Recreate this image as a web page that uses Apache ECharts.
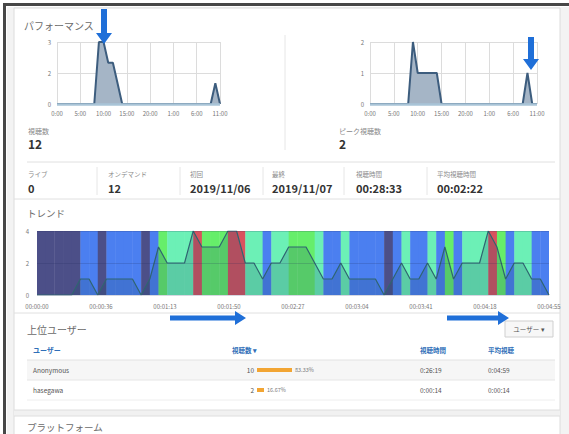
<!DOCTYPE html>
<html>
<head>
<meta charset="utf-8">
<script src="https://cdn.jsdelivr.net/npm/echarts@6/dist/echarts.min.js"></script>
<style>
  html, body { margin: 0; padding: 0; background: #fff; }
  #c { width: 569px; height: 434px; }
</style>
</head>
<body>
<div id="c"></div>
<script>
const FONT = '"Noto Sans CJK JP", "Noto Sans", sans-serif';

// Performance: views per hour and peak concurrent viewers, 0:00 (day 1) to 11:00 (day 2)
const perfTickLabels = ['0:00', '5:00', '10:00', '15:00', '20:00', '1:00', '6:00', '11:00'];
const viewsPerHour = [0,0,0,0,0,0,0,0,0,3,3,2,2,1,0,0,0,0,0,0,0,0,0,0,0,0,0,0,0,0,0,0,0,0,1,0];
const peakPerHour  = [0,0,0,0,0,0,0,0,0,2,1,1,1,1,1,0,0,0,0,0,0,0,0,0,0,0,0,0,0,0,0,0,0,1,0,0];
const viewsYTicks = ['0', '2', '3'];
const peakYTicks = ['0', '1', '2'];

// Summary row
const statLabels = ['ライブ', 'オンデマンド', '初回', '最終', '視聴時間', '平均視聴時間'];
const statValues = ['0', '12', '2019/11/06', '2019/11/07', '00:28:33', '00:02:22'];

// Trend: viewers at each 5-second slot of the video
const trendStepSec = 5;
const trendCounts = [0,0,0,0,0,1,1,0,1,1,1,1,0,1,3,2,2,2,4,3,3,3,4,4,2,2,1,2,2,3,
                     3,3,2,1,1,2,1,1,1,1,0,1,2,1,1,2,1,3,1,2,2,2,4,3,1,2,2,1,1,0];
const trendTickLabels = ['00:00:00', '00:00:36', '00:01:13', '00:01:50', '00:02:27',
                         '00:03:04', '00:03:41', '00:04:18', '00:04:55'];
const trendYTicks = ['0', '2', '4'];
const trendBandColors = ['#4c4f88', '#4b7ff0', '#6cf0b6', '#66ee6a', '#d9525e'];

// Top users
const userNames = ['Anonymous', 'hasegawa'];
const userViews = [10, 2];
const userShare = [83.33, 16.67];
const userWatchTime = ['0:26:19', '0:00:14'];
const userLongest = ['0:04:59', '0:00:14'];

const chart = echarts.init(document.getElementById('c'), null, { renderer: 'svg', width: 569, height: 434 });

function txt(x, y, text, size, color, extra) {
  return {
    type: 'text', x: x, y: y, silent: true,
    style: Object.assign({
      text: text, fill: color, fontSize: size, fontFamily: FONT,
      textAlign: 'left', textVerticalAlign: 'middle', align: 'left', verticalAlign: 'middle'
    }, extra || {})
  };
}
function hline(x1, x2, y, color) {
  return { type: 'line', silent: true, shape: { x1: x1, y1: y, x2: x2, y2: y }, style: { stroke: color || '#e2e2e2', lineWidth: 1 } };
}
function vline(x, y1, y2, color) {
  return { type: 'line', silent: true, shape: { x1: x, y1: y1, x2: x, y2: y2 }, style: { stroke: color || '#e6e6e6', lineWidth: 1 } };
}
function box(x, y, w, h, fill, stroke) {
  return { type: 'rect', silent: true, shape: { x: x, y: y, width: w, height: h }, style: { fill: fill, stroke: stroke || null, lineWidth: 1 } };
}
const ARROW = '#1f6fd8';
function arrowDown(cx, y1, y2) {
  return { type: 'polygon', silent: true, z: 200, style: { fill: ARROW },
    shape: { points: [[cx - 3, y1], [cx + 3, y1], [cx + 3, y2 - 11], [cx + 8, y2 - 11], [cx, y2],
                      [cx - 8, y2 - 11], [cx - 3, y2 - 11]] } };
}
function arrowRight(x1, x2, cy) {
  return { type: 'polygon', silent: true, z: 200, style: { fill: ARROW },
    shape: { points: [[x1, cy - 2.5], [x2 - 11, cy - 2.5], [x2 - 11, cy - 7], [x2, cy],
                      [x2 - 11, cy + 7], [x2 - 11, cy + 2.5], [x1, cy + 2.5]] } };
}

const graphics = [];
// page frame and card
graphics.push(box(7, 7, 562, 427, '#f3f3f3'));
graphics.push(box(14, 8, 546, 430, '#ffffff', '#dcdcdc'));
graphics.push(box(3, 3, 566, 3, '#474747'));
graphics.push(box(3, 3, 3, 431, '#474747'));
// section rules
graphics.push(vline(285, 35, 150));
graphics.push(hline(27, 555, 162, '#e0e0e0'));
[97, 180, 263, 344, 427].forEach(function (x) { graphics.push(vline(x, 167, 195)); });
graphics.push(hline(14, 560, 199, '#e0e0e0'));
graphics.push(hline(14, 560, 313, '#e0e0e0'));
graphics.push(box(14, 410, 546, 6, '#f1f1f1'));
graphics.push(hline(14, 560, 410, '#dedede'));
graphics.push(hline(14, 560, 416, '#dedede'));

// titles
graphics.push(txt(24, 25, 'パフォーマンス', 10, '#6a6a6a'));
graphics.push(txt(28, 131, '視聴数', 7, '#888'));
graphics.push(txt(28, 143.5, String(viewsPerHour.reduce(function (a, b) { return a + b; }, 0)), 12, '#333', { fontWeight: 'bold' }));
graphics.push(txt(339, 131, 'ピーク視聴数', 7, '#888'));
graphics.push(txt(339, 143.5, String(Math.max.apply(null, peakPerHour)), 12, '#333', { fontWeight: 'bold' }));

// summary row
const statX = [28, 108, 190, 272, 356, 437];
statLabels.forEach(function (s, i) {
  graphics.push(txt(statX[i], 174, s, 6.5, '#8a8a8a'));
  graphics.push(txt(statX[i], 187.5, statValues[i], 11, '#333', { fontWeight: 'bold' }));
});
graphics.push(txt(27, 213, 'トレンド', 9.5, '#6a6a6a'));

// top users table
graphics.push(txt(27, 329, '上位ユーザー', 10, '#6a6a6a'));
graphics.push(box(505, 321, 48, 16, '#f7f7f7', '#cfcfcf'));
graphics.push(txt(529, 329, 'ユーザー ▾', 6.5, '#555', { textAlign: 'center', align: 'center' }));
const LINK = '#2f6fb8';
graphics.push(txt(33, 350, 'ユーザー', 7, LINK, { fontWeight: 'bold' }));
graphics.push(txt(232, 350, '視聴数 ▾', 6.5, LINK, { fontWeight: 'bold' }));
graphics.push(txt(420, 350, '視聴時間', 6.5, LINK, { fontWeight: 'bold' }));
graphics.push(txt(488, 350, '平均視聴', 6.5, LINK, { fontWeight: 'bold' }));
graphics.push(box(27, 360, 528, 20, '#f6f6f6'));
graphics.push(hline(27, 555, 360, '#e2e2e2'));
graphics.push(hline(27, 555, 380, '#e6e6e6'));
graphics.push(hline(27, 555, 400, '#eeeeee'));
const rowY = [370, 390];
userNames.forEach(function (n, i) {
  graphics.push(txt(33, rowY[i], n, 6.5, '#555'));
  graphics.push(txt(254, rowY[i], String(userViews[i]), 6.5, '#555', { textAlign: 'right', align: 'right' }));
  graphics.push(txt(420, rowY[i], userWatchTime[i], 6.5, '#555'));
  graphics.push(txt(488, rowY[i], userLongest[i], 6.5, '#555'));
});
graphics.push(txt(27, 426.5, 'プラットフォーム', 9.5, '#6a6a6a'));

// annotation arrows
graphics.push(arrowDown(104, 9, 44));
graphics.push(arrowDown(531, 37, 70));
graphics.push(arrowRight(170, 246, 318));
graphics.push(arrowRight(447, 509, 318));

const smallLabel = { fontSize: 6, color: '#777', fontFamily: FONT };

function perfX(gridIndex) {
  return {
    gridIndex: gridIndex, type: 'value', min: 0, max: 35, interval: 5,
    axisLine: { show: false }, axisTick: { show: false },
    splitLine: { show: true, lineStyle: { color: '#dcdcdc', width: 1 } },
    axisLabel: Object.assign({ margin: 6, showMinLabel: true, showMaxLabel: true, hideOverlap: false,
      formatter: function (v) { return perfTickLabels[Math.round(v / 5)]; } }, smallLabel)
  };
}
function perfY(gridIndex, max, interval, ticks) {
  return {
    gridIndex: gridIndex, type: 'value', min: 0, max: max, interval: interval,
    axisLine: { show: false }, axisTick: { show: false },
    splitLine: { show: true, lineStyle: { color: '#dcdcdc', width: 1 } },
    axisLabel: Object.assign({ margin: 6, formatter: function (v, i) { return ticks[i]; } }, smallLabel)
  };
}
function perfSeries(idx, values) {
  return {
    type: 'line', xAxisIndex: idx, yAxisIndex: idx, symbol: 'none',
    data: values.map(function (v, h) { return [h, v]; }),
    lineStyle: { color: '#3d5d7e', width: 2 },
    areaStyle: { color: '#a5b5c6', opacity: 1 },
    itemStyle: { color: '#3d5d7e' },
    // light baseline along zero, drawn over the series outline
    markLine: {
      silent: true, symbol: 'none', animation: false,
      label: { show: false },
      lineStyle: { color: '#a9c4d7', width: 2.5, type: 'solid' },
      data: [{ yAxis: 0 }]
    }
  };
}

const trendPoints = trendCounts.map(function (v, i) { return [i * trendStepSec, v]; });
const trendMax = 4;

const option = {
  animation: false,
  backgroundColor: '#ffffff',
  textStyle: { fontFamily: FONT },
  graphic: { elements: graphics },
  grid: [
    { left: 57, top: 42, width: 163, height: 62, show: true, backgroundColor: '#f4f4f4', borderWidth: 0 },
    { left: 370, top: 42, width: 167, height: 62, show: true, backgroundColor: '#f4f4f4', borderWidth: 0 },
    { left: 37, top: 231, width: 512, height: 64 },
    { left: 257, top: 360, width: 42, height: 40 }
  ],
  xAxis: [
    perfX(0), perfX(1),
    {
      gridIndex: 2, type: 'value', min: 0, max: 295, interval: 295 / 8,
      axisLine: { show: false }, axisTick: { show: false }, splitLine: { show: false },
      axisLabel: Object.assign({ margin: 8, showMinLabel: true, showMaxLabel: true, hideOverlap: false,
        formatter: function (v) { return trendTickLabels[Math.round(v / (295 / 8))]; } }, smallLabel)
    },
    { gridIndex: 3, type: 'value', min: 0, max: 100, show: false }
  ],
  yAxis: [
    perfY(0, 3, 1.5, viewsYTicks),
    perfY(1, 2, 1, peakYTicks),
    {
      gridIndex: 2, type: 'value', min: 0, max: trendMax, interval: 2, z: 5,
      axisLine: { show: false }, axisTick: { show: false },
      splitLine: { show: true, lineStyle: { color: 'rgba(30,40,90,0.18)', width: 1 } },
      axisLabel: Object.assign({ margin: 8, formatter: function (v, i) { return trendYTicks[i]; } }, smallLabel)
    },
    { gridIndex: 3, type: 'category', data: userNames, inverse: true, show: false }
  ],
  series: [
    perfSeries(0, viewsPerHour),
    perfSeries(1, peakPerHour),
    {
      type: 'custom', xAxisIndex: 2, yAxisIndex: 2, silent: true,
      encode: { x: 0, y: 1 },
      data: trendPoints,
      renderItem: function (params, api) {
        const t = api.value(0), v = api.value(1);
        const p0 = api.coord([t, trendMax]);
        const p1 = api.coord([t + trendStepSec, 0]);
        const cs = params.coordSys;
        const r = echarts.graphic.clipRectByRect(
          { x: p0[0], y: p0[1], width: p1[0] - p0[0] + 0.4, height: p1[1] - p0[1] },
          { x: cs.x, y: cs.y, width: cs.width, height: cs.height });
        if (!r) return;
        return { type: 'rect', shape: r, style: { fill: trendBandColors[v] } };
      }
    },
    {
      type: 'line', xAxisIndex: 2, yAxisIndex: 2, symbol: 'none', z: 4,
      data: trendPoints,
      lineStyle: { color: '#2f6570', width: 1.2 },
      areaStyle: { color: 'rgba(28,70,105,0.30)' }
    },
    {
      type: 'bar', xAxisIndex: 3, yAxisIndex: 3, barWidth: 4,
      data: userShare,
      itemStyle: { color: '#f2a533' },
      label: { show: true, position: 'right', distance: 3, fontSize: 5.5, color: '#777', fontFamily: FONT,
        formatter: function (p) { return p.value.toFixed(2) + '%'; } }
    }
  ]
};
chart.setOption(option);
</script>
</body>
</html>
